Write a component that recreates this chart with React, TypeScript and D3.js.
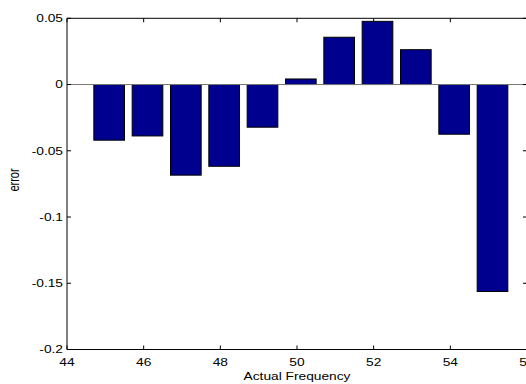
import React from 'react';
import * as d3 from 'd3';

// actual frequency (x) and measured error (bar height)
const freqs = [45.1, 46.1, 47.1, 48.1, 49.1, 50.1, 51.1, 52.1, 53.1, 54.1, 55.1];
const errors = [-0.042, -0.0388, -0.0684, -0.0617, -0.0322, 0.0042, 0.0357, 0.0477, 0.0263, -0.0375, -0.1562];

const xTicks = [44, 46, 48, 50, 52, 54, 56];
const yTicks = [0.05, 0, -0.05, -0.1, -0.15, -0.2];
const yTickLabels = ['0.05', '0', '-0.05', '-0.1', '-0.15', '-0.2'];

const W = 526;
const H = 384;
const LEFT = 67;
const RIGHT = 527;
const TOP = 18.3;
const BOTTOM = 349.5;
const BAR_W = 0.8;
const FONT = '"Liberation Sans", Arial, Helvetica, sans-serif';
const SX = 1.25; // the picture's text is stretched sideways

const App = () => {
    const x = d3.scaleLinear().domain([44, 56]).range([LEFT, RIGHT]);
    const y = d3.scaleLinear().domain([-0.2, 0.05]).range([BOTTOM, TOP]);
    const y0 = y(0);

    return (
        <svg width={W} height={H} style={{position: 'absolute', left: 0, top: 0, background: '#fff'}}
             fontFamily={FONT} fontSize={11}>
            <rect x={0} y={0} width={W} height={H} fill="#fff"/>

            {/* bars */}
            {freqs.map((f, i) => {
                const v = errors[i];
                const x0 = x(f - BAR_W / 2);
                const x1 = x(f + BAR_W / 2);
                return (
                    <rect key={i} x={x0} y={Math.min(y(v), y0)} width={x1 - x0}
                          height={Math.abs(y(v) - y0)} fill="#00008F" stroke="#000" strokeWidth={1}/>
                );
            })}

            {/* baseline */}
            <line x1={LEFT} x2={RIGHT} y1={y0} y2={y0} stroke="#777" strokeWidth={1}/>

            {/* box */}
            <line x1={LEFT} x2={RIGHT} y1={TOP} y2={TOP} stroke="#000" strokeWidth={1}/>
            <line x1={LEFT} x2={RIGHT} y1={BOTTOM} y2={BOTTOM} stroke="#000" strokeWidth={1}/>
            <line x1={LEFT} x2={LEFT} y1={TOP} y2={BOTTOM} stroke="#000" strokeWidth={1}/>
            <line x1={RIGHT} x2={RIGHT} y1={TOP} y2={BOTTOM} stroke="#000" strokeWidth={1}/>

            {/* x ticks */}
            {xTicks.map(t => (
                <g key={'x' + t}>
                    <line x1={x(t)} x2={x(t)} y1={BOTTOM} y2={BOTTOM - 4} stroke="#000"/>
                    <line x1={x(t)} x2={x(t)} y1={TOP} y2={TOP + 4} stroke="#000"/>
                    <text transform={`translate(${x(t)},${365.5}) scale(${SX},1)`} textAnchor="middle">{t}</text>
                </g>
            ))}

            {/* y ticks */}
            {yTicks.map((t, i) => (
                <g key={'y' + i}>
                    <line x1={LEFT} x2={LEFT + 4} y1={y(t)} y2={y(t)} stroke="#000"/>
                    <line x1={RIGHT} x2={RIGHT - 4} y1={y(t)} y2={y(t)} stroke="#000"/>
                    <text transform={`translate(${LEFT - 4},${y(t) + 3.8}) scale(${SX},1)`} textAnchor="end">
                        {yTickLabels[i]}
                    </text>
                </g>
            ))}

            {/* axis labels */}
            <text transform={`translate(${(LEFT + RIGHT) / 2},${380}) scale(${SX},1)`} textAnchor="middle">
                Actual Frequency
            </text>
            <text transform={`translate(${18.5},${180}) scale(${SX},1) rotate(-90)`} textAnchor="middle">
                error
            </text>
        </svg>
    );
};

export default App;
